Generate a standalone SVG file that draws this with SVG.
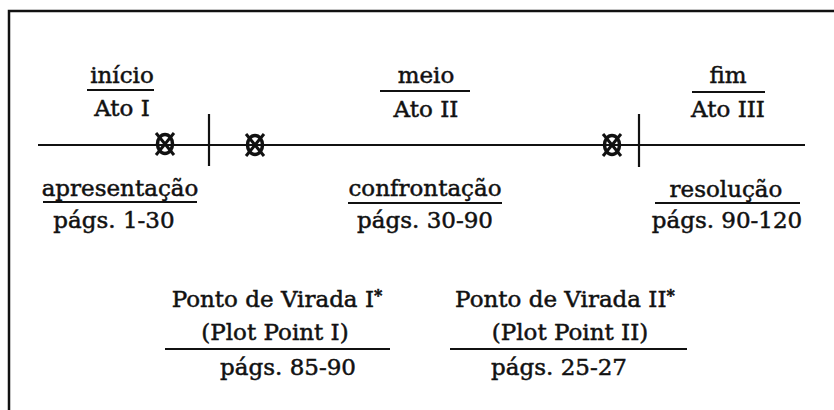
<svg xmlns="http://www.w3.org/2000/svg" width="834" height="410" viewBox="0 0 834 410">
<style>
  text { font-family: "DejaVu Serif", "Liberation Serif", serif; font-size: 23px; fill: #111; stroke: #111; stroke-width: 0.5; text-anchor: middle; }
  .rule { stroke: #111; stroke-width: 2.2; fill: none; }
  .axis { stroke: #111; stroke-width: 2.2; fill: none; }
  .sup { font-size: 16px; font-weight: bold; }
</style>
<defs>
  <g id="pp">
    <ellipse cx="0" cy="0" rx="7.5" ry="9.5" fill="none" stroke="#111" stroke-width="3.5"/>
    <line x1="-9" y1="-11" x2="9" y2="11" stroke="#111" stroke-width="3"/>
    <line x1="9" y1="-11" x2="-9" y2="11" stroke="#111" stroke-width="3"/>
  </g>
</defs>
<rect width="834" height="410" fill="#fff"/>
<path d="M9,410 V11 H834" stroke="#111" stroke-width="2.5" fill="none"/>

<g id="connectors">
  <line class="axis" x1="38" y1="145" x2="805" y2="145"/>
  <line class="axis" x1="209" y1="114" x2="209" y2="166"/>
  <line class="axis" x1="639" y1="114" x2="639" y2="167"/>
</g>

<g id="plotpoint1"><use href="#pp" x="165" y="144"/></g>
<g id="plotpoint2"><use href="#pp" x="255" y="145"/></g>
<g id="plotpoint3"><use href="#pp" x="612" y="145"/></g>

<g id="act1-top">
  <text x="122" y="83">início</text>
  <line class="rule" x1="87" y1="90" x2="154" y2="90"/>
  <text x="122" y="116">Ato I</text>
</g>
<g id="act2-top">
  <text x="426" y="83">meio</text>
  <line class="rule" x1="380" y1="91" x2="470" y2="91"/>
  <text x="426" y="117">Ato II</text>
</g>
<g id="act3-top">
  <text x="728" y="83">fim</text>
  <line class="rule" x1="692" y1="92" x2="765" y2="92"/>
  <text x="728" y="117">Ato III</text>
</g>

<g id="act1-bottom">
  <text x="120" y="196">apresentação</text>
  <line class="rule" x1="43" y1="202" x2="197" y2="202"/>
  <text x="114" y="228">págs. 1-30</text>
</g>
<g id="act2-bottom">
  <text x="425" y="196">confrontação</text>
  <line class="rule" x1="348" y1="203" x2="502" y2="203"/>
  <text x="425" y="228">págs. 30-90</text>
</g>
<g id="act3-bottom">
  <text x="726" y="197">resolução</text>
  <line class="rule" x1="655" y1="203" x2="800" y2="203"/>
  <text x="727" y="228">págs. 90-120</text>
</g>

<g id="pp1-note">
  <text x="277" y="307">Ponto de Virada I<tspan class="sup" dy="-6">*</tspan></text>
  <text x="275" y="340" dy="0">(Plot Point I)</text>
  <line class="rule" x1="165" y1="349" x2="390" y2="349"/>
  <text x="288" y="375">págs. 85-90</text>
</g>
<g id="pp2-note">
  <text x="565" y="307">Ponto de Virada II<tspan class="sup" dy="-6">*</tspan></text>
  <text x="570" y="340">(Plot Point II)</text>
  <line class="rule" x1="450" y1="349" x2="687" y2="349"/>
  <text x="559" y="375">págs. 25-27</text>
</g>
</svg>
